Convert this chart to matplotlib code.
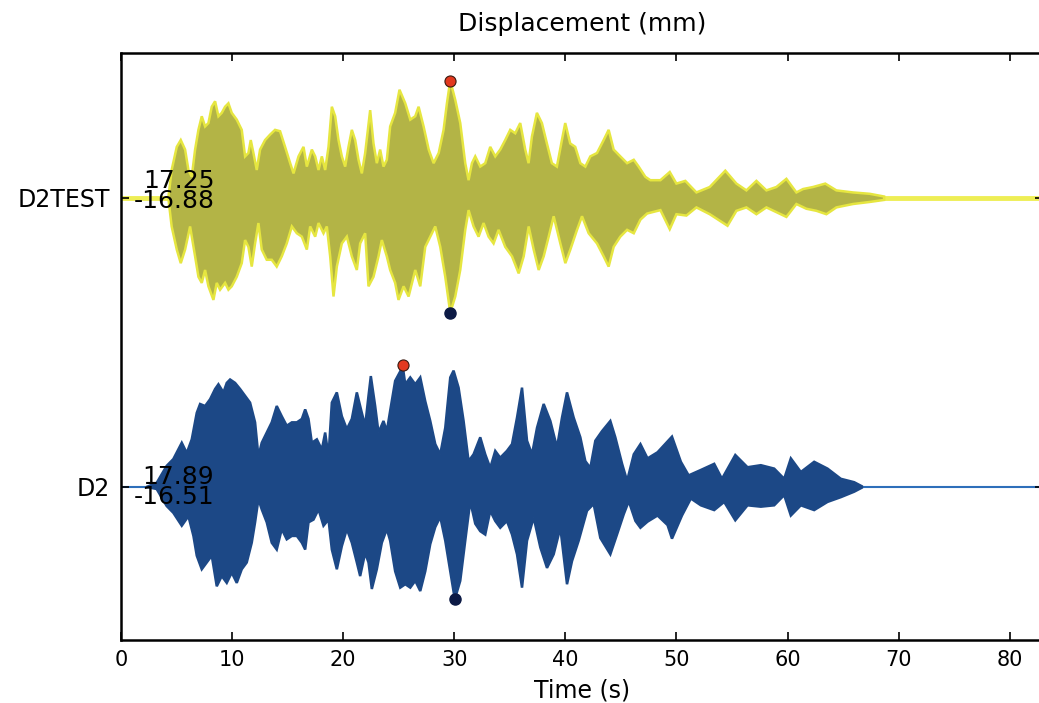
import matplotlib
matplotlib.use('Agg')
import matplotlib.pyplot as plt

# envelope of the D2TEST trace (time s, amplitude mm)
d2test_t_up = [4.26, 4.56, 5.02, 5.38, 5.77, 6.07, 6.37, 6.67, 6.97, 7.27, 7.57, 7.87, 8.17,
               8.47, 8.77, 9.07, 9.37, 9.67, 9.97, 10.42, 10.87, 11.17, 11.47, 11.68, 11.92,
               12.22, 12.52, 12.97, 13.42, 13.87, 14.32, 14.77, 15.23, 15.53, 15.98, 16.43,
               16.73, 17.18, 17.48, 17.78, 18.08, 18.38, 18.68, 18.98, 19.28, 19.58, 19.88,
               20.18, 20.48, 20.78, 21.08, 21.38, 21.68, 21.98, 22.43, 22.73, 23.03, 23.33,
               23.63, 23.93, 24.23, 24.68, 25.07,
               25.59, 26.04, 26.49, 26.79, 27.24, 27.7, 28.14, 28.6, 29.04, 29.34, 29.64,
               30.09, 30.54, 30.99, 31.29, 31.59, 31.89, 32.34, 32.79, 33.24, 33.69, 34.14,
               34.59, 35.04, 35.49, 35.94, 36.39, 36.69, 36.99, 37.44, 37.89, 38.34, 38.79,
               39.24, 39.69, 39.99, 40.44, 40.89, 41.35, 41.8, 42.25, 42.85, 43.45, 43.9,
               44.35, 44.95, 45.56, 46.16, 46.6, 47.2, 47.65, 48.56,
               49.4, 50.0, 50.8, 51.8, 53.0, 54.4, 55.4, 56.3, 57.2, 58.1, 59.0, 59.9, 60.8,
               61.4, 62.3, 63.4, 64.4, 65.9, 67.4, 68.7]
d2test_up = [0, 4.1, 7.5, 8.5, 7.1, 4.1, 3.1, 7.1, 10, 12, 10.5, 11, 13.4,
             14.2, 12, 12.5, 13.4, 13.9, 12.5, 11.5, 10, 6.1, 6.6, 8.5, 6.6,
             4.1, 7.1, 8.5, 9.3, 10, 9.8, 7.5, 5.1, 3.6, 6.1, 7.5,
             4.6, 7.1, 6.1, 4.1, 6.1, 4.1, 7.5, 13.4, 12, 8.5, 6.1,
             4.6, 7.5, 10, 8.5, 5.6, 3.6, 6.6, 12.9, 8.0, 5.1, 7.1,
             4.6, 5.6, 10.5, 12.5, 15.9,
             13.9, 11.5, 12, 13.4, 10.5, 7.1, 5.1, 6.6, 10, 13.9, 17.25,
             14.4, 11, 5.1, 2.6, 5.1, 6.1, 4.6, 5.1, 7.5, 6.1, 7.1,
             8.5, 10, 9.5, 11, 7.1, 5.1, 9, 12.5, 11, 8, 5.1,
             4.6, 8.5, 11, 8, 7.5, 5.1, 4.6, 6.1, 6.6, 8.5, 10,
             7.1, 6.1, 5.1, 5.6, 4.6, 3.1, 2.6, 2.6,
             3.8, 2.1, 2.5, 0.8, 1.6, 4, 2.1, 1.1, 2.5, 1.1, 1.6, 2.8, 0.8,
             1.3, 1.6, 2.1, 1.1, 0.8, 0.6, 0.2]
d2test_t_lo = [4.26, 4.56, 5.02, 5.38, 5.77, 6.22, 6.67, 6.97, 7.27, 7.57, 7.87, 8.32, 8.62,
               8.92, 9.37, 9.67, 9.97, 10.42, 10.87, 11.17, 11.47, 11.77, 12.07, 12.37, 12.67,
               13.12, 13.57, 14.02, 14.47, 14.92, 15.38, 15.83, 16.28, 16.73, 17.03, 17.48,
               17.78, 18.23, 18.53, 18.83, 19.13, 19.43, 19.88, 20.33, 20.78, 21.23, 21.53,
               21.98, 22.28, 22.73, 23.18, 23.48, 23.93, 24.23, 24.68, 24.98, 25.44, 25.89,
               26.49, 26.94, 27.39, 27.84, 28.29, 28.74, 29.19, 29.64, 30.09, 30.54, 30.99,
               31.29, 31.74, 32.19, 32.64, 33.09, 33.54, 33.99, 34.59, 35.2, 35.8, 36.25,
               36.7, 37.15, 37.6, 38.05, 38.5, 38.95, 39.55, 40.0, 40.45, 41.05, 41.5, 42.1,
               42.85, 43.45, 43.9, 44.35, 44.95, 45.56, 46.16, 46.76, 47.36, 48.56,
               49.4, 50.0, 50.9, 51.8, 53.0, 54.6, 55.4, 56.3, 57.2, 58.1, 59.0, 59.9, 60.8,
               61.7, 62.6, 63.5, 64.4, 65.9, 67.4, 68.7]
d2test_lo = [0, 4.2, 7.6, 9.6, 7.6, 4.2, 8.6, 11.6, 12.5, 10.6, 13, 15, 12.5,
             13.5, 12.5, 13.5, 13, 11.6, 9.6, 6.2, 7.2, 10.1, 6.7, 3.7, 7.6,
             9.1, 9.1, 10.1, 8.6, 6.7, 4.2, 5.2, 5.7, 7.6, 4.2, 5.7,
             3.7, 5.2, 4.2, 8.6, 14.5, 10.1, 6.7, 5.7, 8.6, 10.6, 6.7,
             5.2, 13, 11.6, 8.6, 6.2, 8.6, 10.6, 12.5, 15, 13, 14.5,
             10.6, 13, 7.2, 5.7, 4.2, 7.2, 11.6, 16.88, 14.5, 10.6, 4.7,
             1.8, 4.2, 5.7, 3.7, 5.7, 6.7, 4.7, 7.2, 8.6, 11.1, 8.6,
             4.2, 7.6, 10.6, 8.6, 5.7, 2.7, 6.7, 9.6, 7.6, 4.7, 2.7, 5.2,
             6.7, 8.6, 10.1, 7.2, 5.7, 4.7, 5.2, 3.2, 2.3, 1.8,
             4.6, 2.4, 2.6, 1.4, 2.4, 4.1, 1.9, 1.4, 2.4, 1.4, 2.1, 2.8, 0.9,
             1.6, 1.9, 2.4, 1.4, 0.9, 0.6, 0.3]

# envelope of the D2 trace
d2_t_up = [2.3, 3.21, 4.11, 4.71, 5.47, 5.92, 6.37, 6.82, 7.12, 7.57, 8.02, 8.47, 8.77, 9.22,
           9.52, 9.82, 10.27, 10.72, 11.17, 11.62, 12.07, 12.37, 12.67, 13.12, 13.57, 14.02,
           14.47, 14.92, 15.38, 15.83, 16.28, 16.58, 16.88, 17.18, 17.63, 18.08, 18.38, 18.68,
           18.98, 19.43, 19.88, 20.33, 20.78, 21.23, 21.68, 21.98, 22.28, 22.49, 22.88, 23.18,
           23.63, 23.93, 24.23, 24.68, 25.14, 25.35, 25.59, 26.04, 26.49, 26.94, 27.39, 27.84,
           28.29, 28.74, 29.19, 29.64, 29.94, 30.39, 30.84, 31.29, 31.74, 32.34, 32.79, 33.24,
           33.69, 34.14, 34.74, 35.2, 35.65, 36.1, 36.55, 37.0, 37.45, 38.05, 38.65, 39.25,
           39.7, 40.15, 40.75, 41.35, 41.8, 42.25, 42.7, 43.3, 44.05, 44.5, 45.11, 45.56,
           46.16, 46.76,
           47.4, 48.3, 49.6, 50.4, 51.1, 52.2, 53.4, 54.1, 55.3, 56.4, 57.6, 58.8, 59.7,
           60.3, 61.2, 62.4, 63.6, 64.8, 66.0, 66.7]
d2_up = [0, 0.6, 3.1, 4.1, 6.5, 5, 7, 10.9, 12.2, 11.9, 12.9, 14.4, 15.1, 13.9,
         15.3, 15.8, 15.3, 14.4, 13.4, 12.4, 9.5, 4.5, 6.5, 8.0, 9.5, 11.9,
         10.4, 9, 9.5, 9.5, 10, 11.4, 10, 6.5, 7, 5.5, 8.0, 4.5,
         12.4, 13.9, 10.4, 8.5, 10, 13.9, 10.9, 9, 13.4, 16.3, 11.9, 8,
         9.7, 8.2, 11.2, 15.6, 17.0, 17.89, 15.1, 16.1, 15.1, 16.1, 12.6, 9.7,
         6.3, 4.8, 8.7, 16.1, 17.1, 14.6, 9.7, 3.8, 4.8, 7.3, 4.8, 2.8,
         5.3, 4.3, 5.3, 6.3, 10.2, 14.6, 6.8, 4.8, 8.7, 12.2, 9.7, 5.8,
         10.2, 13.9, 10.2, 7.3, 3.8, 2.8, 6.8, 8.2, 9.7, 7.3, 3.4, 0.9,
         4.8, 6.3,
         4.2, 5.1, 7.4, 3.7, 1.7, 2.5, 3.4, 1.2, 4.7, 2.9, 3.2, 2.7, 1.2,
         4.2, 2.2, 3.7, 2.7, 1.2, 0.7, 0.1]
d2_t_lo = [2.3, 3.21, 4.11, 4.71, 5.47, 6.07, 6.52, 6.82, 7.27, 7.72, 8.17, 8.62, 9.07, 9.52,
           9.97, 10.42, 10.87, 11.32, 11.77, 12.07, 12.37, 12.67, 13.12, 13.57, 14.02, 14.47,
           14.92, 15.38, 15.83, 16.28, 16.58, 16.88, 17.33, 17.78, 18.23, 18.68, 18.98, 19.43,
           19.88, 20.33, 20.78, 21.23, 21.53, 21.98, 22.28, 22.58, 23.03, 23.48, 23.93,
           24.23, 24.68, 25.14, 25.59, 26.04, 26.49, 26.94, 27.39, 27.84, 28.29, 28.74, 29.19,
           29.64, 30.05, 30.54, 30.99, 31.44, 31.89, 32.34, 32.79, 33.24, 33.69, 34.14, 34.74,
           35.2, 35.65, 36.1, 36.55, 37.15, 37.75, 38.35, 38.95, 39.55, 40.15, 40.6, 41.2,
           41.95, 42.55, 43.15, 44.05, 44.65, 45.26, 45.71, 46.31, 46.76,
           47.4, 48.3, 49.2, 49.6, 50.5, 51.3, 52.2, 53.4, 54.3, 55.3, 56.4, 57.6, 58.8,
           59.7, 60.3, 61.2, 62.4, 63.6, 64.8, 66.0, 66.7]
d2_lo = [0, 0.3, 2.8, 3.8, 5.7, 4.3, 7.2, 10.1, 12.1, 11.1, 10.1, 14.6, 13.1, 14.1,
         12.6, 14.1, 12.1, 11.1, 8.2, 5.2, 1.8, 3.3, 5.2, 8.2, 9.2, 6.2,
         7.7, 7.2, 7.2, 8.2, 9.2, 5.2, 4.8, 3.3, 5.7, 4.8, 9.2, 12.1,
         8.7, 6.2, 8.2, 11.1, 13.1, 9.7, 11.1, 15, 12.1, 8.2, 6.2,
         7.9, 12.4, 14.8, 14.3, 14.8, 13.8, 15.3, 12.4, 8.4, 5.9, 4.4, 7.9,
         12.4, 16.51, 13.8, 7.9, 2.1, 5.4, 6.5, 7.0, 3.5, 5.0, 6.0, 5.0,
         7.0, 9.9, 14.8, 7.9, 4.5, 8.9, 11.9, 9.9, 6.0, 14.3, 10.9, 7.9,
         3.5, 2.5, 7.5, 9.9, 7.0, 4.0, 2.1, 5.0, 6.0,
         5.1, 4.2, 5.6, 7.6, 4.2, 1.7, 2.7, 3.4, 2.2, 4.9, 2.7, 2.9, 2.7,
         1.2, 4.2, 2.7, 3.4, 2.2, 1.5, 0.7, 0.1]

names = ['D2', 'D2TEST']
offsets = [0.0, 42.5]
peak_max = [17.89, 17.25]
peak_min = [-16.51, -16.88]
t_max = [25.35, 29.64]
t_min = [30.05, 29.64]
t_end = 83.0

traces = [(d2_t_up, d2_up, d2_t_lo, d2_lo), (d2test_t_up, d2test_up, d2test_t_lo, d2test_lo)]
fill_col = ['#1c4886', '#b3b446']
edge_col = ['#1c4886', '#e6e640']
base_col = ['#2e6fba', '#eeee55']
base_lw = [1.5, 3.5]
label_shift = [0.0, 1.0]

fig = plt.figure(figsize=(10.39, 7.03), dpi=100)
ax = fig.add_axes([121 / 1039, 1 - 640 / 703, 922 / 1039, 587 / 703])

for i, (tu, au, tl, al) in enumerate(traces):
    off = offsets[i]
    ax.plot([0, t_end], [off, off], color=base_col[i], lw=base_lw[i], zorder=1)
    xs = list(tu) + list(tl[::-1])
    ys = [off + a for a in au] + [off - a for a in al[::-1]]
    ax.fill(xs, ys, facecolor=fill_col[i], edgecolor=edge_col[i], lw=1.8, zorder=2)
    ax.plot(t_max[i], off + peak_max[i], 'o', ms=8, mfc='#e2391f', mec='#3a1a10', mew=0.8, zorder=4)
    ax.plot(t_min[i], off + peak_min[i], 'o', ms=8, mfc='#0c1a45', mec='#0c1a45', zorder=4)
    ax.text(8.4, off + label_shift[i], '%.2f\n%.2f' % (peak_max[i], peak_min[i]), ha='right',
            va='center', multialignment='right', fontsize=18, linespacing=0.82, zorder=5)

ax.set_xlim(0, t_end)
ax.set_ylim(-22.5, 63.8)
ax.set_xticks(range(0, 90, 10))
ax.set_yticks(offsets)
ax.set_yticklabels(names)
ax.tick_params(direction='in', top=True, right=True, length=6, width=1.2)
ax.tick_params(axis='x', labelsize=15, pad=7)
ax.tick_params(axis='y', labelsize=17, pad=8)
for s in ax.spines.values():
    s.set_linewidth(1.8)
ax.set_xlabel('Time (s)', fontsize=17, labelpad=6)
ax.set_title('Displacement (mm)', fontsize=18, pad=16)

fig.savefig('out.png', dpi=100)
